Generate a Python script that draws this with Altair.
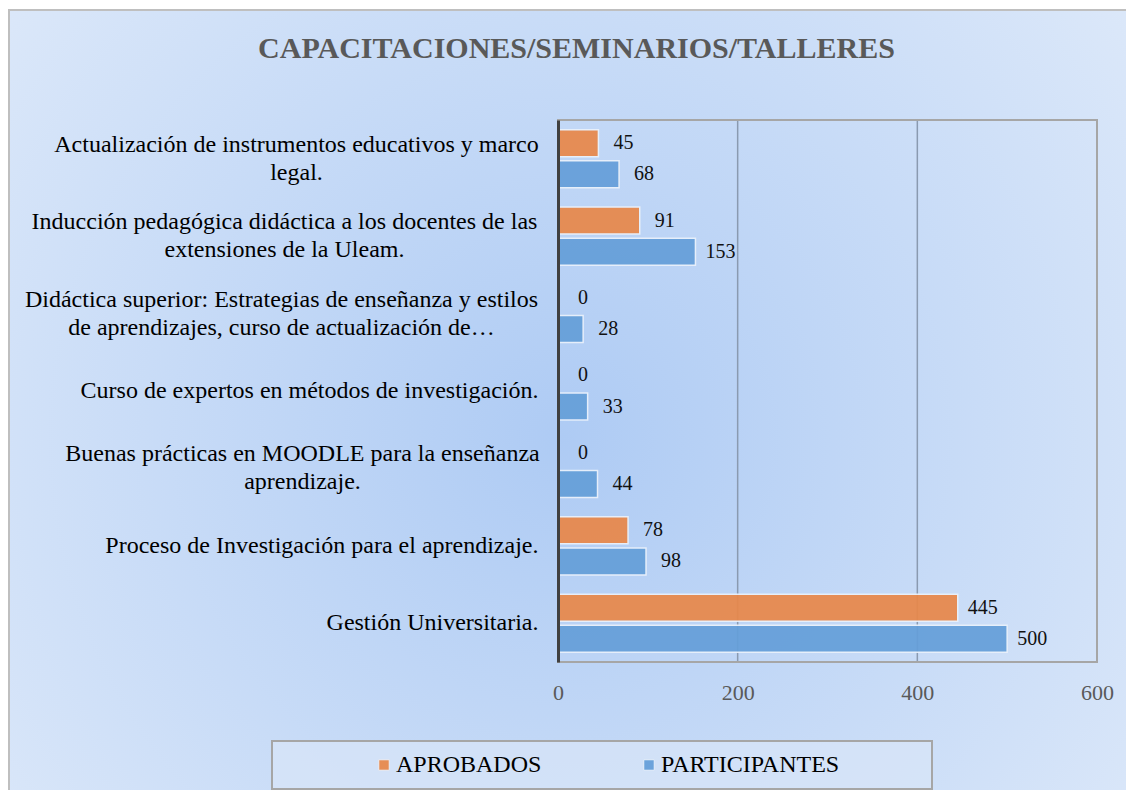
import altair as alt
import pandas as pd

categorias = [
    "Actualización de instrumentos educativos y marco\nlegal.",
    "Inducción pedagógica didáctica a los docentes de las\nextensiones de la Uleam.",
    "Didáctica superior: Estrategias de enseñanza y estilos\nde aprendizajes, curso de actualización de…",
    "Curso de expertos en métodos de investigación.",
    "Buenas prácticas en MOODLE para la enseñanza\naprendizaje.",
    "Proceso de Investigación para el aprendizaje.",
    "Gestión Universitaria.",
]
aprobados = [45, 91, 0, 0, 0, 78, 445]
participantes = [68, 153, 28, 33, 44, 98, 500]
series = ["APROBADOS", "PARTICIPANTES"]
colores = ["#e8884a", "#659fd9"]
ticks_x = [0, 200, 400, 600]
titulo = "CAPACITACIONES/SEMINARIOS/TALLERES"

rows = []
for c, a, p in zip(categorias, aprobados, participantes):
    rows.append({"cat": c, "serie": series[0], "valor": a})
    rows.append({"cat": c, "serie": series[1], "valor": p})
df = pd.DataFrame(rows)
df_ticks = pd.DataFrame({"t": [t for t in ticks_x if 0 < t < 600]})

W, H = 539, 542
FONT = "Liberation Serif"

xscale = alt.Scale(domain=[0, 600])
yscale = alt.Scale(paddingInner=0.25, paddingOuter=0.125)

bg = alt.Chart(alt.Data(values=[{}])).mark_rect(
    fill={
        "gradient": "radial",
        "x1": 0.49, "y1": 0.53, "r1": 0,
        "x2": 0.49, "y2": 0.53, "r2": 0.72,
        "stops": [
            {"offset": 0, "color": "#aecbf4"},
            {"offset": 1, "color": "#e2ecfa"},
        ],
    },
    stroke="#bfbfbf",
    strokeWidth=2,
).encode(
    x=alt.value(-549), x2=alt.value(580),
    y=alt.value(-110), y2=alt.value(680),
)

grid = alt.Chart(df_ticks).mark_rule(color="#8a9ab0", strokeWidth=1.5).encode(
    x=alt.X("t:Q", scale=xscale)
)

frame = alt.Chart(alt.Data(values=[{}])).mark_rect(
    fillOpacity=0, stroke="#a6a6a6", strokeWidth=2
).encode(x=alt.value(0), x2=alt.value(W), y=alt.value(0), y2=alt.value(H))

legend_box = alt.Chart(alt.Data(values=[{}])).mark_rect(
    fill="#d9e6f8", fillOpacity=0.7, stroke="#a6a6a6", strokeWidth=2
).encode(x=alt.value(-286), x2=alt.value(374), y=alt.value(621), y2=alt.value(669))

# two-line labels: centre the block vertically and centre lines horizontally
two_line = "indexof(datum.value, '\\n') >= 0"
label_padding = {
    "condition": [
        {"test": "indexof(datum.value, 'Actualiz') === 0", "value": 262},
        {"test": "indexof(datum.value, 'Inducci') === 0", "value": 274},
        {"test": "indexof(datum.value, 'Did') === 0", "value": 277},
        {"test": "indexof(datum.value, 'Buenas') === 0", "value": 256},
    ],
    "value": 20,
}
label_align = {"condition": {"test": two_line, "value": "center"}, "value": "right"}
label_offset = {"condition": {"test": two_line, "value": -14}, "value": 0}

base = alt.Chart(df).encode(
    y=alt.Y(
        "cat:N", sort=categorias, scale=yscale, title=None,
        axis=alt.Axis(
            labelExpr="split(datum.label, '\\n')",
            labelFont=FONT, labelFontSize=24, labelColor="#000000",
            labelLineHeight=28, labelLimit=700,
            labelPadding=label_padding, labelAlign=label_align,
            labelOffset=label_offset,
            ticks=False, domainColor="#404040", domainWidth=3, grid=False,
            zindex=2,
        ),
    ),
    yOffset=alt.YOffset("serie:N", sort=series,
                        scale=alt.Scale(paddingInner=0.13, paddingOuter=0)),
)

bars = base.mark_bar(opacity=0.93, stroke="#eaf1fb", strokeWidth=1.5).encode(
    x=alt.X(
        "valor:Q", scale=xscale, title=None,
        axis=alt.Axis(
            values=ticks_x, labelFont=FONT, labelFontSize=22, labelColor="#595959",
            labelPadding=20, labelFlush=False, ticks=False, domain=False,
            grid=False, zindex=2,
        ),
    ),
    color=alt.Color(
        "serie:N", sort=series, scale=alt.Scale(domain=series, range=colores),
        legend=alt.Legend(
            title=None, orient="none", legendX=-186, legendY=633,
            direction="horizontal", symbolType="square", symbolSize=110,
            symbolStrokeColor="#eaf1fb", symbolStrokeWidth=1,
            labelFont=FONT, labelFontSize=24, labelColor="#000000",
            labelLimit=500, columnPadding=95, labelOffset=0, padding=0,
        ),
    ),
)

labels = base.mark_text(
    align="center", baseline="middle", dx=25, font=FONT, fontSize=20, color="#111111"
).encode(x=alt.X("valor:Q", scale=xscale), text="valor:Q")

chart = alt.layer(bg, grid, frame, legend_box, bars, labels).properties(
    width=W, height=H,
    autosize=alt.AutoSizeParams(type="none"),
    padding={"left": 550, "top": 112, "right": 29, "bottom": 128},
    title=alt.TitleParams(
        titulo, font=FONT, fontSize=30, fontWeight="bold", color="#595959",
        anchor="middle", frame="group", dx=-251, offset=-55,
    ),
).configure_view(stroke=None)

chart.save("out.html", embed_options={"renderer": "svg", "actions": False})
